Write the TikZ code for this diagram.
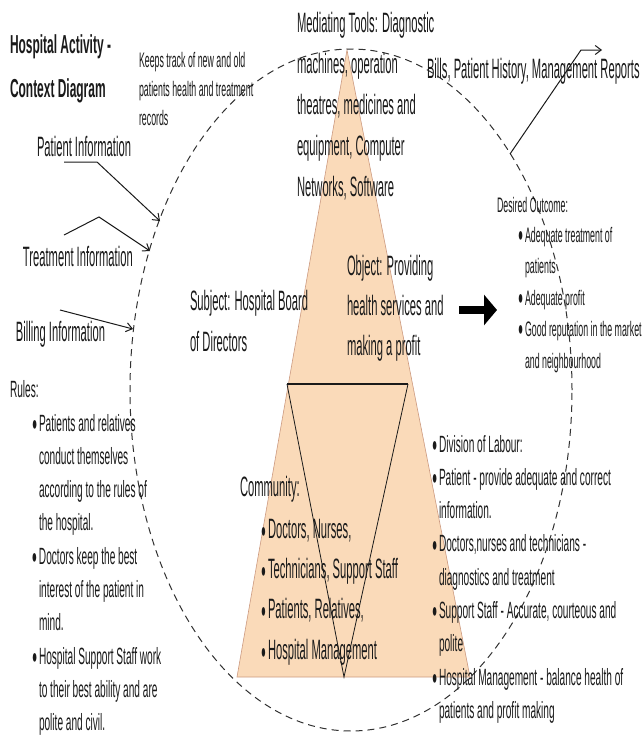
\documentclass[tikz,border=0pt]{standalone}
\usepackage{fontspec}
\usetikzlibrary{arrows.meta}
\newfontfamily\fBig{Liberation Sans}[FakeStretch=0.40]
\newfontfamily\fMed{Liberation Sans}[FakeStretch=0.43]
\newfontfamily\fSm{Liberation Sans}[FakeStretch=0.42]
\newfontfamily\fTit{Liberation Sans}[FakeStretch=0.46]
\definecolor{peach}{HTML}{FADAB9}
\definecolor{peachedge}{HTML}{CC9A80}
\definecolor{ink}{HTML}{1A1A1A}
\newcommand\mybul{\makebox[7pt][l]{\raisebox{0.8pt}{\fontsize{20}{20}\selectfont ●}}}
\newcommand\myind{\makebox[7pt]{}}
\begin{document}
\begin{tikzpicture}[x=1pt,y=-1pt,
  txt/.style={anchor=base west, align=left, inner sep=0pt, outer sep=0pt, text=ink},
  big/.style={txt, font=\fBig\fontsize{28}{41}\selectfont},
  med/.style={txt, font=\fMed\fontsize{23.5}{33.3}\selectfont},
  sm/.style={txt, font=\fSm\fontsize{21}{29}\selectfont},
  ttl/.style={txt, font=\fTit\bfseries\fontsize{26}{44}\selectfont},
  flow/.style={draw=ink, line width=1pt, -{Straight Barb[length=6pt,width=9pt]}},
  bigarrow/.style={draw=black, line width=8pt, -{Triangle[length=13pt,width=30pt]}},
  boundary/.style={draw=ink!90, line width=1pt, dash pattern=on 7pt off 5pt}]
\useasboundingbox[fill=white] (0,0) rectangle (644,736);

% triangles
\fill[peach, draw=peachedge, line width=0.6pt] (347,50) -- (237,677) -- (470,677) -- cycle;
\draw[ink, line width=0.8pt] (287,384) -- (344,677) -- (408,384);
\draw[ink, line width=1.8pt] (287,384) -- (408,384);

% boundary
\draw[boundary] (351,390) ellipse [x radius=221pt, y radius=341pt];

% texts (anchor = baseline of the last line)
\node[ttl] (title) at (10,97) {Hospital Activity -\\Context Diagram};
\node[sm] (keeps) at (139,125) {Keeps track of new and old\\patients health and treatment\\records};
\node[big] (tools) at (297,196) {Mediating Tools: Diagnostic\\machines, operation\\theatres, medicines and\\equipment, Computer\\Networks, Software};
\node[big] (bills) at (427,78) {Bills, Patient History, Management Reports};
\node[big] (pinfo) at (37,156) {Patient Information};
\node[big] (tinfo) at (23,266) {Treatment Information};
\node[big] (binfo) at (16,341) {Billing Information};
\node[big] (subj) at (190,351) {Subject: Hospital Board\\of Directors};
\node[txt, font=\fBig\fontsize{28}{40}\selectfont] (obj) at (347,355) {Object: Providing\\health services and\\making a profit};
\node[sm] (desired) at (497,212) {Desired Outcome:};
\node[txt, font=\fSm\fontsize{21}{31.5}\selectfont] (outcomes) at (518,368)
  {\mybul Adequate treatment of\\\myind patients\\\mybul Adequate profit\\\mybul Good reputation in the market\\\myind and neighbourhood};
\node[med] (rules) at (10,397) {Rules:};
\node[med] (rulelist) at (32,730.7)
  {\mybul Patients and relatives\\\myind conduct themselves\\\myind according to the rules of\\\myind the hospital.\\\mybul Doctors keep the best\\\myind interest of the patient in\\\myind mind.\\\mybul Hospital Support Staff work\\\myind to their best ability and are\\\myind polite and civil.};
\node[big] (comm) at (240,496) {Community:};
\node[txt, font=\fBig\fontsize{28}{40.3}\selectfont] (commlist) at (261,659)
  {\mybul Doctors, Nurses,\\\mybul Technicians, Support Staff\\\mybul Patients, Relatives,\\\mybul Hospital Management};
\node[med] (labour) at (432,718.4)
  {\mybul Division of Labour:\\\mybul Patient - provide adequate and correct\\\myind information.\\\mybul Doctors,nurses and technicians -\\\myind diagnostics and treatment\\\mybul Support Staff - Accurate, courteous and\\\myind polite\\\mybul Hospital Management - balance health of\\\myind patients and profit making};

% flows
\coordinate (p0) at (64,162); \coordinate (p1) at (97,162); \coordinate (p2) at (160,221);
\draw[flow] (p0) -- (p1) -- (p2);
\coordinate (t0) at (64,235); \coordinate (t1) at (99,217); \coordinate (t2) at (150,251);
\draw[flow] (t0) -- (t1) -- (t2);
\coordinate (b0) at (60,310); \coordinate (b1) at (133,329);
\draw[flow] (b0) -- (b1);
\coordinate (o0) at (510,154); \coordinate (o1) at (581,50); \coordinate (o2) at (602,50);
\draw[flow] (o0) -- (o1) -- (o2);
\coordinate (a0) at (459,310); \coordinate (a1) at (497,310);
\draw[bigarrow] (a0) -- (a1);
\end{tikzpicture}
\end{document}
